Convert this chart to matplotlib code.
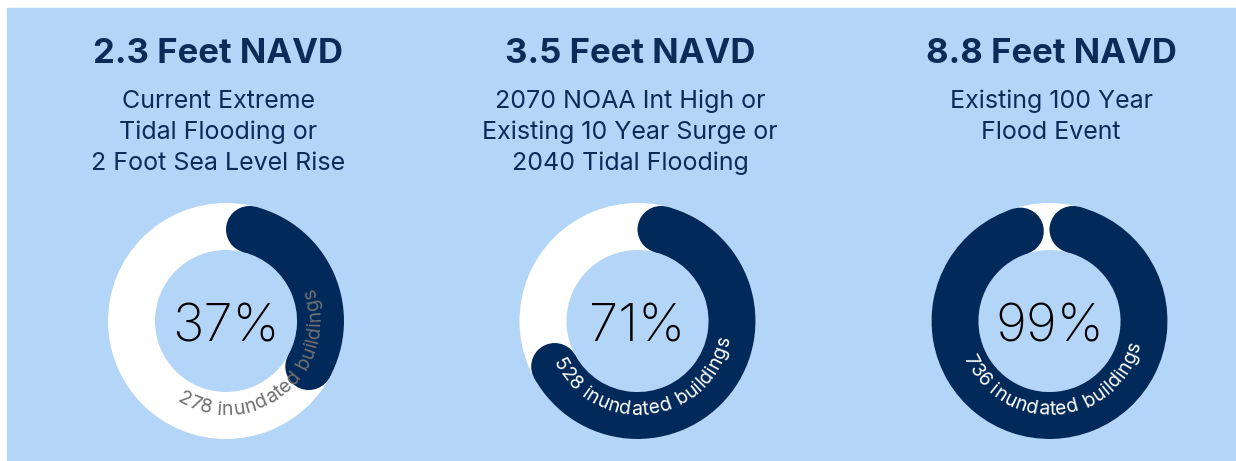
import numpy as np
import matplotlib.pyplot as plt
from matplotlib.patches import Wedge, Circle, Rectangle
from matplotlib.font_manager import FontProperties

levels = ["2.3 Feet NAVD", "3.5 Feet NAVD", "8.8 Feet NAVD"]
scenarios = [
    ["Current Extreme", "Tidal Flooding or", "2 Foot Sea Level Rise"],
    ["2070 NOAA Int High or", "Existing 10 Year Surge or", "2040 Tidal Flooding"],
    ["Existing 100 Year", "Flood Event"],
]
pct_inundated = [37, 71, 99]
buildings = [278, 528, 736]

W, H = 1236, 461
BG = "#b3d5f8"
NAVY = "#012a5b"
TITLE = "#0b2c57"
FONT = ["Inter", "DejaVu Sans"]

ring_x = [226, 637.5, 1049.5]
ring_y = H - 321
text_x = [218, 630, 1051]
label_angle = [310, 278, 275]
label_color = ["#707070", "white", "white"]
r_out, r_in = 118, 71

fig = plt.figure(figsize=(W / 100, H / 100), dpi=100)
fig.patch.set_facecolor("white")
ax = fig.add_axes([0, 0, 1, 1])
ax.set_xlim(0, W)
ax.set_ylim(0, H)
ax.axis("off")
ax.add_patch(Rectangle((7, 0), W - 7, H - 8, color=BG, zorder=0))

renderer = fig.canvas.get_renderer()


def text_width(s, prop):
    w, _, _ = renderer.get_text_width_height_descent(s, prop, ismath=False)
    return w


def curved_label(text, cx, cy, r, center_deg, color, size):
    prop = FontProperties(family=FONT, size=size)
    total = text_width(text, prop)
    r_mid = r - 6
    for i, ch in enumerate(text):
        if ch == " ":
            continue
        right = text_width(text[:i + 1], prop)
        mid = right - text_width(ch, prop) / 2
        phi = np.radians(center_deg) + (mid - total / 2) / r_mid
        ax.text(cx + r * np.cos(phi), cy + r * np.sin(phi), ch,
                fontproperties=prop, color=color,
                rotation=np.degrees(phi) + 90, rotation_mode="anchor",
                ha="center", va="baseline", zorder=5)


for i in range(3):
    cx = ring_x[i]
    # track
    ax.add_patch(Wedge((cx, ring_y), r_out, 0, 360, width=r_out - r_in,
                       facecolor="white", edgecolor="none", zorder=1))
    # value arc with round ends, clockwise from the top
    half = (r_out - r_in) / 2
    rc = r_in + half
    inset = np.degrees(np.arcsin(half / rc))
    start = 90 - inset
    end = 90 - pct_inundated[i] * 3.6 + inset
    ax.add_patch(Wedge((cx, ring_y), r_out, end, start, width=r_out - r_in,
                       facecolor=NAVY, edgecolor="none", zorder=2))
    for a in (start, end):
        t = np.radians(a)
        ax.add_patch(Circle((cx + rc * np.cos(t), ring_y + rc * np.sin(t)),
                            half, facecolor=NAVY, edgecolor="none", zorder=2))

    ax.text(cx, H - 342, f"{pct_inundated[i]}%", fontsize=38,
            family=FONT, fontweight="light", color="black",
            ha="center", va="baseline", zorder=4)
    curved_label(f"{buildings[i]} inundated buildings", cx, ring_y, 94,
                 label_angle[i], label_color[i], 14)

    tx = text_x[i]
    ax.text(tx, H - 63, levels[i], fontsize=25, family=FONT,
            fontweight="bold", color=TITLE, ha="center", va="baseline")
    for k, line in enumerate(scenarios[i]):
        ax.text(tx, H - 108 - 31 * k, line, fontsize=18, family=FONT,
                color=TITLE, ha="center", va="baseline")

fig.savefig("out.png", dpi=100, facecolor=fig.get_facecolor())
